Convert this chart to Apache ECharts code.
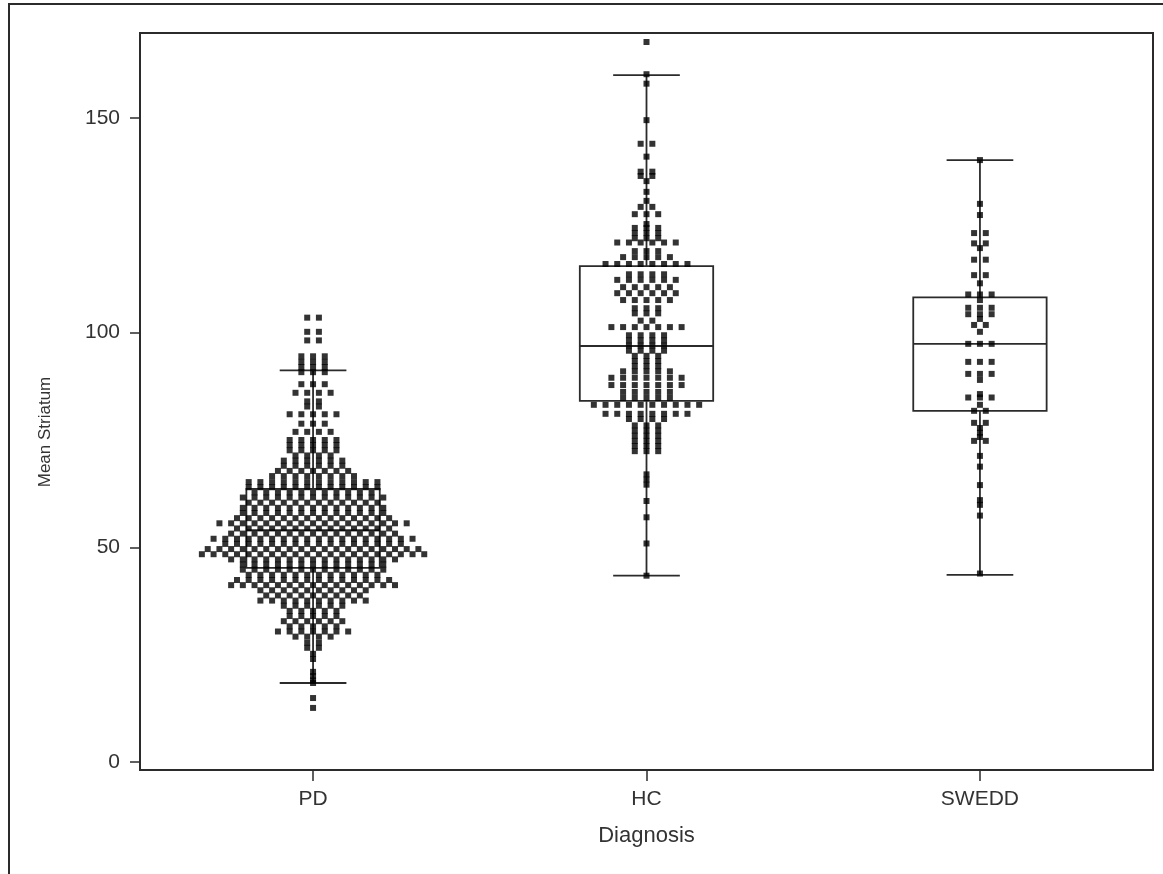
<!DOCTYPE html>
<html>
<head>
<meta charset="utf-8">
<title>Mean Striatum by Diagnosis</title>
<script src="https://cdn.jsdelivr.net/npm/echarts@6.0.0/dist/echarts.min.js"></script>
<style>
  html, body { margin: 0; padding: 0; background: #fff; }
  #chart { width: 1163px; height: 874px; }
</style>
</head>
<body>
<div id="chart"></div>
<script>
const categories = ['PD', 'HC', 'SWEDD'];
const yTicks = [0, 50, 100, 150];
const yTitle = 'Mean Striatum';
const xTitle = 'Diagnosis';

// box stats: [lower whisker, Q1, median, Q3, upper whisker]
const pdBox = [18.4, 45.2, 54.0, 63.6, 91.2];
const hcBox = [43.4, 84.1, 96.9, 115.5, 160.0];
const sweddBox = [43.6, 81.8, 97.4, 108.2, 140.2];

// dot rows: [value, number of dots side by side]
const pdRows = [
  [103.5, 2], [100.2, 2], [98.2, 2], [94.5, 3], [93.2, 3], [92.0, 3], [90.8, 3],
  [88.0, 3], [86.0, 4], [84.0, 2], [82.8, 2], [81.0, 5], [78.8, 3], [76.9, 4],
  [75.0, 5], [73.8, 5], [72.6, 5], [71.4, 4], [70.2, 6], [69.0, 6], [67.8, 7],
  [66.6, 8], [65.2, 12], [64.0, 12], [62.8, 11], [61.6, 13], [60.4, 12], [59.2, 13],
  [58.0, 13], [56.8, 14], [55.6, 17], [54.4, 14], [53.2, 15], [52.0, 18], [50.8, 16],
  [49.6, 19], [48.4, 20], [47.2, 15], [46.0, 13], [44.8, 13], [43.6, 12], [42.4, 14],
  [41.2, 15], [40.0, 10], [38.8, 9], [37.6, 10], [36.4, 6], [35.2, 5], [34.0, 5],
  [32.8, 6], [31.6, 5], [30.4, 7], [29.2, 4], [27.8, 2], [26.6, 2], [25.2, 1],
  [24.0, 1], [21.0, 1], [20.0, 1], [19.0, 1], [18.4, 1], [14.9, 1], [12.6, 1]
];
const hcRows = [
  [167.7, 1], [160.2, 1], [158.0, 1], [149.5, 1], [144.0, 2], [141.0, 1], [137.5, 2],
  [136.5, 2], [135.3, 1], [132.8, 1], [130.7, 1], [129.3, 2], [127.6, 3], [125.3, 1],
  [124.4, 3], [123.2, 3], [122.0, 3], [121.0, 6], [119.0, 3], [117.6, 5], [116.0, 8],
  [113.6, 4], [112.3, 6], [110.6, 5], [109.2, 6], [107.6, 5], [105.7, 3], [104.5, 3],
  [102.8, 2], [101.3, 7], [99.4, 4], [98.2, 4], [97.0, 4], [95.8, 4], [94.6, 3],
  [93.4, 3], [92.2, 3], [91.0, 5], [89.5, 7], [87.8, 7], [86.2, 5], [84.8, 5],
  [83.2, 10], [81.1, 8], [79.9, 4], [78.4, 3], [77.2, 3], [76.0, 3], [74.8, 3],
  [73.6, 3], [72.4, 3], [67.0, 1], [65.8, 1], [64.6, 1], [60.8, 1], [57.0, 1],
  [50.9, 1], [43.4, 1]
];
const sweddRows = [
  [140.2, 1], [130.0, 1], [127.4, 1], [123.2, 2], [120.8, 2], [119.7, 1], [117.0, 2],
  [113.4, 2], [111.5, 1], [108.9, 3], [107.6, 1], [105.8, 3], [104.3, 3], [103.2, 1],
  [101.8, 2], [100.2, 1], [97.4, 3], [93.2, 3], [90.4, 3], [89.0, 1], [85.7, 1],
  [84.9, 3], [83.2, 1], [81.8, 2], [79.0, 2], [77.8, 1], [76.7, 1], [75.7, 1],
  [74.8, 2], [71.3, 1], [68.8, 1], [64.5, 1], [61.0, 1], [59.9, 1], [57.4, 1],
  [43.9, 1]
];

const chart = echarts.init(document.getElementById('chart'));

const FONT = 'Liberation Sans, Arial, sans-serif';
const INK = '#2b2b2b';
const TEXT = '#333';
const colStep = 0.0351; // horizontal spacing between dots, in x units

// spread each row's dots symmetrically around the group position
function swarm(rows, pos) {
    const pts = [];
    rows.forEach(([v, n]) => {
        for (let k = 0; k < n; k++) {
            pts.push([pos + (k - (n - 1) / 2) * colStep, v]);
        }
    });
    return pts;
}

const dots = [].concat(swarm(pdRows, 1), swarm(hcRows, 2), swarm(sweddRows, 3));
const boxes = [pdBox, hcBox, sweddBox].map((b, i) => [i + 1].concat(b));

function renderBox(params, api) {
    const x = api.value(0);
    const lo = api.coord([x, api.value(1)]);
    const q1 = api.coord([x, api.value(2)]);
    const med = api.coord([x, api.value(3)]);
    const q3 = api.coord([x, api.value(4)]);
    const hi = api.coord([x, api.value(5)]);
    const half = api.size([0.2, 0])[0];
    const cap = api.size([0.1, 0])[0];
    const style = { stroke: INK, lineWidth: 1.8, fill: 'none' };
    const cx = lo[0];
    return {
        type: 'group',
        children: [
            { type: 'rect', shape: { x: cx - half, y: q3[1], width: half * 2, height: q1[1] - q3[1] }, style },
            { type: 'line', shape: { x1: cx - half, y1: med[1], x2: cx + half, y2: med[1] }, style },
            { type: 'line', shape: { x1: cx, y1: q3[1], x2: cx, y2: hi[1] }, style },
            { type: 'line', shape: { x1: cx, y1: q1[1], x2: cx, y2: lo[1] }, style },
            { type: 'line', shape: { x1: cx - cap, y1: hi[1], x2: cx + cap, y2: hi[1] }, style },
            { type: 'line', shape: { x1: cx - cap, y1: lo[1], x2: cx + cap, y2: lo[1] }, style }
        ]
    };
}

const option = {
    backgroundColor: '#fff',
    animation: false,
    textStyle: { fontFamily: FONT },
    grid: { left: 140, right: 10, top: 33, bottom: 104, show: true, borderColor: INK, borderWidth: 2 },
    graphic: [
        { type: 'rect', shape: { x: 9, y: 4, width: 1300, height: 1000 }, style: { stroke: INK, lineWidth: 2, fill: 'none' }, silent: true },
        {
            type: 'text', x: 45, y: 432, rotation: Math.PI / 2, silent: true,
            style: { text: yTitle, font: '17px ' + FONT, fill: TEXT, align: 'center', verticalAlign: 'middle' }
        }
    ],
    xAxis: {
        type: 'value',
        min: 0.481,
        max: 3.519,
        axisLine: { show: true, onZero: false, lineStyle: { color: INK, width: 2 } },
        axisTick: { show: true, customValues: [1, 2, 3], length: 11, lineStyle: { color: INK, width: 1.5 } },
        axisLabel: {
            customValues: [1, 2, 3],
            formatter: v => categories[Math.round(v) - 1] || '',
            margin: 19, fontSize: 21, color: TEXT, fontFamily: FONT
        },
        splitLine: { show: false },
        name: xTitle,
        nameLocation: 'middle',
        nameGap: 55,
        nameTextStyle: { fontSize: 22, color: TEXT, fontFamily: FONT }
    },
    yAxis: {
        type: 'value',
        min: -1.86,
        max: 169.8,
        axisLine: { show: true, onZero: false, lineStyle: { color: INK, width: 2 } },
        axisTick: { show: true, customValues: yTicks, length: 10, lineStyle: { color: INK, width: 1.5 } },
        axisLabel: { customValues: yTicks, margin: 20, fontSize: 21, color: TEXT, fontFamily: FONT },
        splitLine: { show: false }
    },
    series: [
        {
            type: 'custom',
            renderItem: renderBox,
            encode: { x: 0, y: [1, 2, 3, 4, 5] },
            data: boxes,
            silent: true,
            z: 2
        },
        {
            type: 'scatter',
            symbol: 'rect',
            symbolSize: 6,
            itemStyle: { color: '#000' },
            data: dots,
            silent: true,
            z: 3
        }
    ]
};

chart.setOption(option);
</script>
</body>
</html>
